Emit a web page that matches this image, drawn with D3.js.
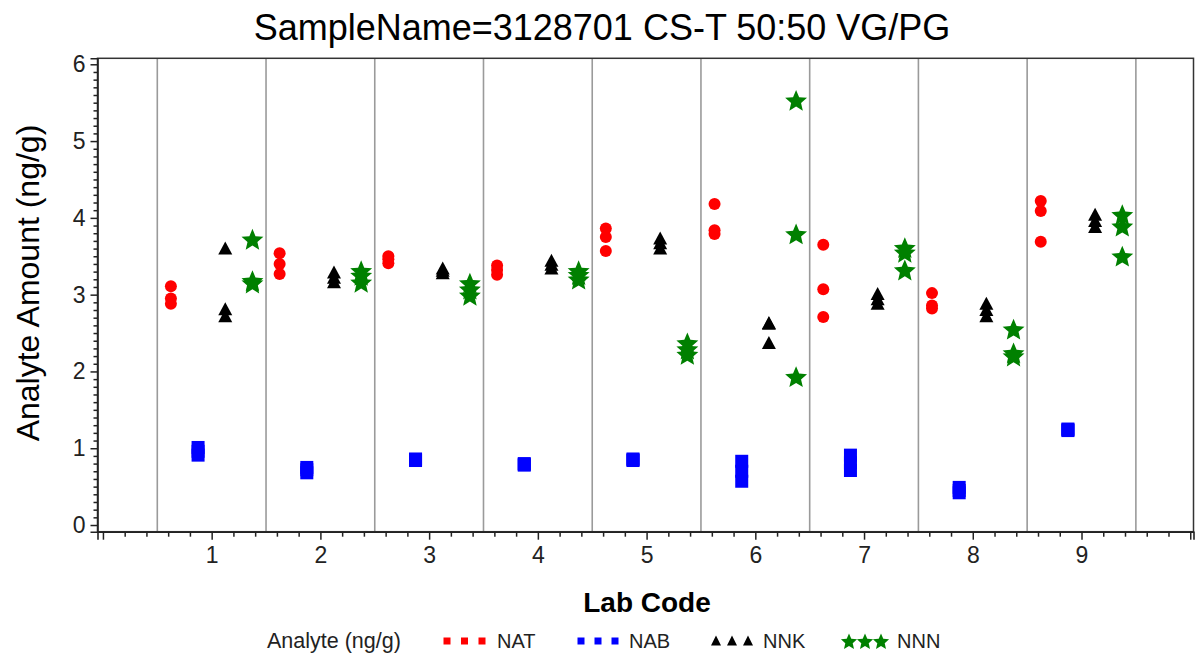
<!DOCTYPE html>
<html><head><meta charset="utf-8">
<script src="https://cdn.jsdelivr.net/npm/d3@7"></script>
<style>body{margin:0;background:#fff} svg{display:block} text{font-family:"Liberation Sans",Arial,sans-serif}</style>
</head><body><svg id="c" width="1195" height="660"></svg>
<script>
// ---------- data ----------
const titleText = "SampleName=3128701 CS-T 50:50 VG/PG";
const yLabel = "Analyte Amount (ng/g)";
const xLabel = "Lab Code";
const legendTitle = "Analyte (ng/g)";
const labCodes = [1, 2, 3, 4, 5, 6, 7, 8, 9];
const analytes = ["NAT", "NAB", "NNK", "NNN"];
const natValues = [[3.11,2.95,2.88],[3.54,3.40,3.27],[3.50,3.46,3.41],[3.38,3.32,3.26],[3.86,3.75,3.57],[4.18,3.84,3.79],[3.65,3.07,2.71],[3.02,2.86,2.82],[4.22,4.09,3.69]];
const nabValues = [[1.01,0.96,0.91],[0.75,0.72,0.68],[0.86,0.85,0.84],[0.80,0.79,0.78],[0.86,0.85,0.84],[0.83,0.70,0.57],[0.91,0.81,0.71],[0.49,0.45,0.42],[1.25,1.24,1.23]];
const nnkValues = [[3.60,2.81,2.72],[3.29,3.22,3.16],[3.34,3.31,3.28],[3.44,3.39,3.34],[3.73,3.67,3.60],[2.63,2.62,2.37],[3.01,2.94,2.88],[2.88,2.80,2.72],[4.04,3.96,3.88]];
const nnnValues = [[3.72,3.18,3.15],[3.31,3.25,3.16],[3.15,3.07,2.99],[3.31,3.26,3.20],[2.37,2.29,2.22],[5.53,3.79,1.93],[3.61,3.55,3.32],[2.55,2.24,2.20],[4.04,3.89,3.50]];
const yTicks = [0, 1, 2, 3, 4, 5, 6];
const xTicks = [0, 1, 2, 3, 4, 5, 6, 7, 8, 9, 10];
const xTickLabels = ["", "1", "2", "3", "4", "5", "6", "7", "8", "9", ""];

// ---------- styles ----------
const colors = {NAT: "#ff0000", NAB: "#0000ff", NNK: "#000000", NNN: "#008000"};
const offsets = {NAT: -0.375, NAB: -0.125, NNK: 0.125, NNN: 0.375};
const valuesBy = {NAT: natValues, NAB: nabValues, NNK: nnkValues, NNN: nnnValues};

const svg = d3.select("#c");
const x = d3.scaleLinear().domain([-0.05, 10.03]).range([97.5, 1193.5]);
const y = d3.scaleLinear().domain([-0.087, 6.078]).range([531.7, 58.3]);
const [X0, X1] = x.range();
const [Y1, Y0] = y.range();
const axisColor = "#222";

function starPath(R, r) {
  let p = "";
  for (let i = 0; i < 10; i++) {
    const a = -Math.PI / 2 + i * Math.PI / 5;
    const rad = i % 2 === 0 ? R : r;
    p += (i ? "L" : "M") + (rad * Math.cos(a)).toFixed(2) + "," + (rad * Math.sin(a)).toFixed(2);
  }
  return p + "Z";
}
function triPath(w, h) { return `M0,${-h/2 - 0.5}L${w/2},${h/2 - 0.5}L${-w/2},${h/2 - 0.5}Z`; }

function drawMarker(g, type, cx, cy, scale) {
  const s = scale || 1;
  if (type === "NAT") {
    g.append("circle").attr("cx", cx).attr("cy", cy).attr("r", 6 * s).attr("fill", colors.NAT);
  } else if (type === "NAB") {
    const a = 13 * s;
    g.append("rect").attr("x", cx - a / 2).attr("y", cy - a / 2).attr("width", a).attr("height", a).attr("fill", colors.NAB);
  } else if (type === "NNK") {
    g.append("path").attr("d", triPath(14 * s, 13 * s)).attr("transform", `translate(${cx},${cy})`).attr("fill", colors.NNK);
  } else {
    g.append("path").attr("d", starPath(11.5 * s, 5.2 * s)).attr("transform", `translate(${cx},${cy + 1})`).attr("fill", colors.NNN);
  }
}

// ---------- title ----------
svg.append("text").attr("x", 602).attr("y", 40).attr("text-anchor", "middle")
  .attr("font-size", 36).attr("fill", "#000").text(titleText);

// ---------- reference lines ----------
const refLines = labCodes.map(d => d - 0.5).concat([labCodes[labCodes.length - 1] + 0.5]);
svg.append("g").selectAll("line").data(refLines).join("line")
  .attr("x1", d => x(d)).attr("x2", d => x(d)).attr("y1", Y0).attr("y2", Y1)
  .attr("stroke", "#9a9a9a").attr("stroke-width", 1.6);

// ---------- frame ----------
svg.append("rect").attr("x", X0).attr("y", Y0).attr("width", X1 - X0).attr("height", Y1 - Y0)
  .attr("fill", "none").attr("stroke", "#333").attr("stroke-width", 1.5);

// ---------- axes ----------
const yMinor = d3.range(0, 61).filter(i => i % 10 !== 0).map(i => i / 10);
const gyMinor = svg.append("g").attr("transform", `translate(${X0},0)`)
  .call(d3.axisLeft(y).tickValues(yMinor).tickSize(4).tickFormat(""));
gyMinor.select(".domain").remove();
const gy = svg.append("g").attr("transform", `translate(${X0},0)`)
  .call(d3.axisLeft(y).tickValues(yTicks).tickSize(7).tickPadding(5).tickFormat(d3.format("d")));
gy.select(".domain").attr("stroke", axisColor).attr("stroke-width", 1.6);
[gy, gyMinor].forEach(g => g.selectAll("line").attr("stroke", axisColor).attr("stroke-width", 1.5));
gy.selectAll("text").attr("font-size", 23).attr("fill", "#222").style("font-family", '"Liberation Sans",Arial,sans-serif');

const xMinor = d3.range(0, 51).filter(i => i % 5 !== 0).map(i => i / 5);
const gxMinor = svg.append("g").attr("transform", `translate(0,${Y1})`)
  .call(d3.axisBottom(x).tickValues(xMinor).tickSize(5).tickFormat(""));
gxMinor.select(".domain").remove();
const gx = svg.append("g").attr("transform", `translate(0,${Y1})`)
  .call(d3.axisBottom(x).tickValues(xTicks).tickSize(8).tickPadding(7).tickFormat((d, i) => xTickLabels[i]));
gx.select(".domain").attr("stroke", axisColor).attr("stroke-width", 1.6);
[gx, gxMinor].forEach(g => g.selectAll("line").attr("stroke", axisColor).attr("stroke-width", 1.5));
gx.selectAll("text").attr("font-size", 23).attr("fill", "#222").style("font-family", '"Liberation Sans",Arial,sans-serif');

// ---------- axis labels ----------
svg.append("text").attr("transform", `translate(39,283) rotate(-90)`).attr("text-anchor", "middle")
  .attr("font-size", 32).attr("fill", "#000").text(yLabel);
svg.append("text").attr("x", 647).attr("y", 612).attr("text-anchor", "middle")
  .attr("font-size", 28).attr("font-weight", "bold").attr("fill", "#000").text(xLabel);

// ---------- data marks ----------
const marks = svg.append("g");
analytes.forEach(a => {
  valuesBy[a].forEach((vals, li) => {
    vals.forEach(v => drawMarker(marks, a, x(labCodes[li] + offsets[a]), y(v)));
  });
});

// ---------- legend ----------
const lg = svg.append("g");
const legY = 641;
lg.append("text").attr("x", 267).attr("y", legY + 7).attr("font-size", 21.5).attr("fill", "#222").text(legendTitle);
const legLayout = {NAT: {mx: [447, 464.5, 482], tx: 497}, NAB: {mx: [581, 598, 615], tx: 629},
                   NNK: {mx: [716, 732, 748], tx: 763}, NNN: {mx: [849, 865, 881], tx: 897}};
analytes.forEach(a => {
  const L = legLayout[a];
  L.mx.forEach(mx => {
    if (a === "NAT" || a === "NAB") {
      lg.append("rect").attr("x", mx - 3.5).attr("y", legY - 3.5).attr("width", 7).attr("height", 7).attr("fill", colors[a]);
    } else if (a === "NNK") {
      lg.append("path").attr("d", triPath(10, 10)).attr("transform", `translate(${mx},${legY})`).attr("fill", colors[a]);
    } else {
      lg.append("path").attr("d", starPath(8.5, 3.9)).attr("transform", `translate(${mx},${legY + 1})`).attr("fill", colors[a]);
    }
  });
  lg.append("text").attr("x", L.tx).attr("y", legY + 7).attr("font-size", 20).attr("fill", "#222").text(a);
});
</script></body></html>
